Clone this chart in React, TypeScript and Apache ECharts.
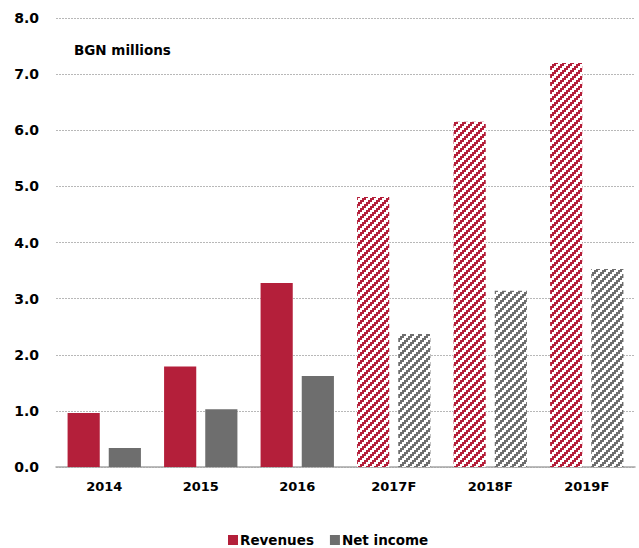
import React, { useEffect, useRef } from "react";
import * as echarts from "echarts";

const categories = ["2014", "2015", "2016", "2017F", "2018F", "2019F"];
const revenues = [0.96, 1.79, 3.28, 4.81, 6.15, 7.2];
const netIncome = [0.34, 1.03, 1.62, 2.37, 3.14, 3.53];
const forecastFlags = [false, false, false, true, true, true];
const seriesNames = ["Revenues", "Net income"];

const RED = "#b41f3a";
const GRAY = "#6e6e6e";

function makeTile(hex: string): string {
  const size = 8;
  const c = document.createElement("canvas");
  c.width = size;
  c.height = size;
  const ctx = c.getContext("2d")!;
  const img = ctx.createImageData(size, size);
  const r = parseInt(hex.slice(1, 3), 16);
  const g = parseInt(hex.slice(3, 5), 16);
  const b = parseInt(hex.slice(5, 7), 16);
  for (let y = 0; y < size; y++) {
    for (let x = 0; x < size; x++) {
      const i = (y * size + x) * 4;
      const bx = Math.floor(x / 2);
      const by = Math.floor(y / 2);
      const on = (bx + by) % 4 < 2;
      img.data[i] = on ? r : 255;
      img.data[i + 1] = on ? g : 255;
      img.data[i + 2] = on ? b : 255;
      img.data[i + 3] = 255;
    }
  }
  ctx.putImageData(img, 0, 0);
  return c.toDataURL();
}

export default function App() {
  const ref = useRef<HTMLDivElement>(null);
  useEffect(() => {
    document.body.style.margin = "0";
    if (!ref.current) return;
    const chart = echarts.init(ref.current, null, { renderer: "svg" });
    const redTile = makeTile(RED);
    const grayTile = makeTile(GRAY);
    const font = "'DejaVu Sans', Verdana, sans-serif";
    const mk = (vals: number[], tile: string) =>
      vals.map((v, i) =>
        forecastFlags[i]
          ? { value: v, itemStyle: { color: { image: tile, repeat: "repeat" } } }
          : { value: v }
      );
    chart.setOption({
      animation: false,
      textStyle: { fontFamily: font },
      grid: { left: 56, right: 4, top: 18, bottom: 81, containLabel: false },
      graphic: [
        {
          type: "text",
          left: 74,
          top: 43,
          style: { text: "BGN millions", font: `bold 13.5px ${font}`, fill: "#000" },
        },
      ],
      legend: {
        top: 533,
        left: 228,
        padding: 0,
        itemWidth: 10,
        itemHeight: 10,
        itemGap: 16,
        icon: "rect",
        textStyle: { fontFamily: font, fontWeight: "bold", fontSize: 13.5, color: "#000", padding: [0, 0, 0, -3] },
        data: seriesNames,
      },
      xAxis: {
        type: "category",
        data: categories,
        axisTick: { show: false },
        axisLine: { lineStyle: { color: "#a6a6a6", width: 1.5 } },
        axisLabel: { fontFamily: font, fontWeight: "bold", fontSize: 13, color: "#000", margin: 13 },
      },
      yAxis: {
        type: "value",
        min: 0,
        max: 8,
        interval: 1,
        axisLine: { show: false },
        axisTick: { show: false },
        axisLabel: {
          fontFamily: font,
          fontWeight: "bold",
          fontSize: 14,
          color: "#000",
          margin: 17,
          formatter: (v: number) => v.toFixed(1),
        },
        splitLine: { lineStyle: { color: "#b8b8b8", type: [2, 1], width: 1 } },
      },
      series: [
        {
          name: seriesNames[0],
          type: "bar",
          color: RED,
          barCategoryGap: "24%",
          barGap: "28%",
          data: mk(revenues, redTile),
        },
        {
          name: seriesNames[1],
          type: "bar",
          color: GRAY,
          data: mk(netIncome, grayTile),
        },
      ],
    });
    return () => chart.dispose();
  }, []);
  return <div ref={ref} style={{ width: 639, height: 548 }} />;
}
